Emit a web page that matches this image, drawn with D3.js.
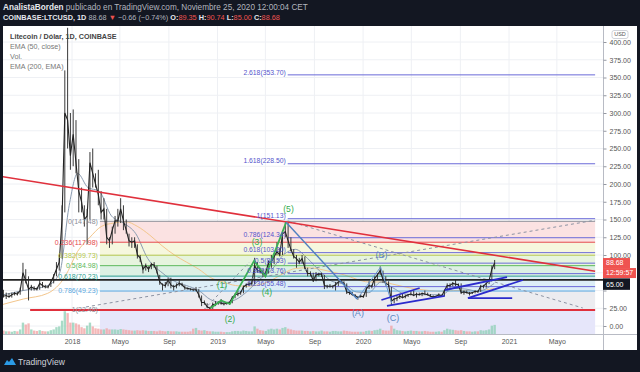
<!DOCTYPE html>
<html>
<head>
<meta charset="utf-8">
<script src="https://cdn.jsdelivr.net/npm/d3@7"></script>
<style>
  body { margin: 0; background: #131722; }
  svg { display: block; font-family: "Liberation Sans", Arial, sans-serif; }
</style>
</head>
<body>
<svg id="chart" width="640" height="372"></svg>
<script>
'use strict';

// weekly candles, first week starts on this Monday
const weekStart = '2017-06-26';
const closes = [
  45, 50, 42, 43, 41, 44, 46, 45, 50, 75, 64, 52, 55, 53, 52, 60, 57, 55, 55, 62, 70, 80, 90, 150, 300, 290, 240,
  270, 230, 190, 175, 150, 155, 230, 215, 200, 185, 160, 165, 125, 120, 135, 148, 148, 165, 148, 135, 120, 118, 120, 100,
  96, 80, 85, 80, 87, 86, 77, 62, 58, 57, 65, 58, 55, 57, 60, 58, 54, 53, 52, 51, 51, 44, 33, 33, 27, 25, 30, 31,
  33, 32, 31, 32, 33, 40, 44, 45, 47, 55, 58, 59, 60, 85, 78, 77, 73, 75, 90, 90, 98, 105, 100, 130, 133, 120, 108,
  98, 95, 90, 95, 82, 74, 74, 64, 72, 73, 73, 57, 56, 56, 56, 58, 62, 63, 60, 48, 47, 44, 43, 40, 42,
  41, 52, 57, 56, 67, 72, 78, 65, 60, 58, 35, 38, 39, 42, 40, 42, 44, 45, 43, 45, 44, 46, 45, 44, 42, 41, 42, 44,
  42, 50, 57, 57, 60, 59, 58, 47, 48, 47, 46, 47, 49, 48, 56, 56, 60, 64, 80, 88.68
];
const highs = [
  52, 54, 51, 47, 46, 47, 48, 48, 54, 89, 80, 70, 58, 56, 54, 66, 62, 58, 57, 66, 73, 90, 100, 170, 360, 420, 300,
  305, 290, 235, 195, 170, 165, 245, 250, 215, 220, 190, 180, 165, 125, 140, 155, 165, 180, 170, 150, 130, 125, 125, 115,
  100, 85, 88, 84, 89, 90, 85, 72, 60, 62, 68, 68, 58, 60, 64, 61, 57, 54, 53, 53, 55, 52, 43, 36, 32, 27, 33, 35,
  35, 38, 33, 33, 34, 42, 46, 50, 49, 57, 60, 62, 63, 96, 90, 82, 80, 77, 92, 100, 102, 118, 110, 135, 146, 145, 125,
  108, 100, 96, 100, 98, 82, 77, 75, 76, 75, 75, 72, 58, 59, 57, 62, 63, 66, 63, 60, 50, 48, 45, 42, 45,
  44, 56, 63, 58, 70, 74, 84, 78, 70, 63, 55, 40, 42, 44, 46, 44, 45, 49, 50, 47, 47, 47, 50, 47, 45, 43, 43, 46,
  44, 51, 60, 60, 62, 65, 60, 60, 50, 50, 48, 48, 50, 50, 58, 58, 61, 65, 85, 93
];
const lows = [
  38, 44, 40, 38, 40, 40, 43, 43, 44, 50, 60, 36, 50, 50, 50, 51, 54, 53, 53, 55, 60, 70, 78, 95, 160, 250, 220,
  225, 215, 160, 160, 140, 115, 150, 195, 195, 170, 150, 150, 115, 110, 115, 130, 140, 145, 135, 130, 112, 110, 110, 95,
  90, 74, 78, 76, 80, 82, 74, 58, 50, 54, 56, 53, 50, 53, 56, 56, 51, 51, 50, 49, 49, 40, 28, 30, 25, 23, 24, 28,
  30, 30, 29, 30, 30, 32, 39, 42, 44, 46, 54, 56, 57, 59, 75, 74, 69, 70, 74, 82, 87, 100, 98, 100, 125, 110, 105,
  95, 82, 87, 88, 80, 70, 70, 62, 63, 70, 69, 52, 53, 54, 53, 50, 56, 60, 58, 45, 44, 43, 41, 37, 40,
  40, 41, 52, 53, 56, 66, 72, 61, 57, 55, 29, 32, 35, 38, 39, 39, 41, 43, 42, 40, 43, 42, 44, 43, 41, 40, 40, 41,
  41, 42, 50, 54, 56, 56, 55, 45, 44, 46, 43, 45, 46, 47, 48, 53, 54, 59, 63, 80
];
const volumes = [
  8, 10, 9, 7, 7, 6, 8, 7, 12, 30, 25, 28, 12, 9, 8, 10, 8, 7, 7, 10, 12, 18, 20, 35, 60, 55, 30,
  30, 28, 25, 18, 15, 22, 30, 20, 15, 14, 12, 12, 15, 12, 12, 12, 11, 13, 12, 11, 10, 9, 9, 10, 9,
  10, 9, 8, 8, 8, 7, 9, 8, 7, 8, 7, 7, 7, 6, 6, 6, 6, 7, 14, 16, 10, 9, 10, 8, 7, 7, 6,
  6, 6, 5, 5, 5, 7, 8, 8, 7, 9, 8, 7, 7, 20, 14, 10, 9, 8, 12, 14, 12, 14, 12, 16, 18, 14, 12,
  10, 9, 9, 9, 8, 8, 7, 8, 7, 7, 9, 7, 7, 6, 8, 8, 7, 7, 9, 8, 7, 6, 6, 6, 6,
  6, 8, 9, 8, 10, 11, 14, 10, 9, 9, 22, 14, 10, 9, 8, 7, 8, 9, 8, 8, 7, 7, 8, 7, 6, 6, 6, 7,
  6, 10, 14, 12, 11, 10, 9, 10, 8, 7, 7, 6, 7, 7, 10, 9, 10, 12, 22, 24
];

// moving averages
const ema50Dates = ['2017-06-26', '2017-09-01', '2017-11-01', '2017-12-01', '2017-12-25', '2018-01-15', '2018-02-10',
  '2018-03-10', '2018-04-10', '2018-05-10', '2018-06-10', '2018-07-10', '2018-08-15', '2018-09-15', '2018-10-15',
  '2018-11-15', '2018-12-15', '2019-01-15', '2019-02-15', '2019-03-15', '2019-04-15', '2019-05-15', '2019-06-15',
  '2019-07-15', '2019-08-15', '2019-09-15', '2019-10-15', '2019-11-15', '2019-12-15', '2020-01-15', '2020-02-15',
  '2020-03-15', '2020-04-15', '2020-05-15', '2020-06-15', '2020-07-15', '2020-08-15', '2020-09-15', '2020-10-15',
  '2020-11-25'];
const ema50Values = [42, 50, 57, 75, 170, 215, 195, 190, 155, 145, 130, 95, 75, 63, 57, 50, 37, 33, 37, 48, 65, 78,
  100, 108, 95, 77, 63, 59, 48, 47, 62, 54, 45, 44, 44, 44, 53, 52, 49, 60];
const ema200Dates = ['2017-06-26', '2017-09-01', '2017-11-01', '2017-12-15', '2018-01-15', '2018-02-15', '2018-03-15',
  '2018-04-15', '2018-05-15', '2018-06-15', '2018-07-15', '2018-08-15', '2018-09-15', '2018-10-15', '2018-11-15',
  '2018-12-15', '2019-01-15', '2019-02-15', '2019-03-15', '2019-04-15', '2019-05-15', '2019-06-15', '2019-07-15',
  '2019-08-15', '2019-09-15', '2019-10-15', '2019-11-15', '2019-12-15', '2020-01-15', '2020-02-15', '2020-03-15',
  '2020-04-15', '2020-05-15', '2020-06-15', '2020-07-15', '2020-08-15', '2020-09-15', '2020-10-15', '2020-11-25'];
const ema200Values = [28, 38, 46, 70, 105, 125, 140, 145, 147, 140, 128, 113, 100, 90, 80, 68, 62, 57, 56, 58, 64, 74,
  81, 82, 80, 76, 72, 66, 62, 62, 59, 55, 52, 50, 49, 50, 50, 50, 53];

// axes (50 and 75 sit behind the price tags)
const yTicks = [0, 25, 50, 75, 100, 125, 150, 175, 200, 225, 250, 275, 300, 325, 350, 375, 400];
const yHiddenTicks = [50, 75];
const xTickDates = ['2018-01-01', '2018-05-01', '2018-09-01', '2019-01-01', '2019-05-01', '2019-09-01',
  '2020-01-01', '2020-05-01', '2020-09-01', '2021-01-01', '2021-05-01'];
const xTickLabels = ['2018', 'Mayo', 'Sep', '2019', 'Mayo', 'Sep', '2020', 'Mayo', 'Sep', '2021', 'Mayo'];

// fibonacci tools
const fibLeftSpan = ['2018-03-12', '2021-08-05'];
const fibLeftPrices = [147.48, 22.48];
const fibLeftLevels = [0, 0.236, 0.382, 0.5, 0.618, 0.786, 1];
const fibLeftColors = ['#8a8d96', '#e5484d', '#b2c64a', '#5cb85c', '#2a9d8f', '#5aa7e0', '#8a8d96'];
const fibLeftFills = ['#fbe2e2', '#f6f7de', '#e6f4de', '#dcf0e4', '#ddeef7', '#ececf0'];
const fibRightSpan = ['2019-06-26', '2021-08-05'];
const fibRightPrices = [25.93, 151.13];
const fibRightLevels = [0.236, 0.382, 0.5, 0.618, 0.786, 1, 1.618, 2.618];

// drawings
const redTrend = [['2017-07-04', 211], ['2021-08-05', 77]];
const redSupport = [['2017-09-18', 22.48], ['2021-08-05', 22.48]];
const blackLevel = 65;
const dashedLines = [
  [['2018-02-05', 26.8], ['2021-08-05', 149]],
  [['2019-06-26', 148], ['2021-07-05', 25.4]],
  [['2018-11-27', 22.5], ['2019-03-22', 90]]
];
const greenWave = [['2018-12-14', 25], ['2019-01-10', 36], ['2019-02-01', 31], ['2019-04-03', 92],
  ['2019-05-01', 70], ['2019-06-22', 146]];
const blueWave = [['2019-06-22', 146], ['2019-12-17', 38]];
const abcWave = [['2019-12-17', 38], ['2020-02-14', 83], ['2020-03-13', 32]];
const channelLines = [
  [['2020-02-16', 36.6], ['2020-05-22', 53.5]],
  [['2020-03-01', 28.2], ['2020-07-24', 42.3]],
  [['2020-07-24', 50.7], ['2020-12-27', 69.0]],
  [['2020-09-20', 39.4], ['2021-02-05', 64.8]],
  [['2020-09-20', 39.4], ['2021-01-09', 39.4]]
];
const waveLabels = ['(5)', '(3)', '(1)', '(4)', '(2)'];
const waveLabelPos = [['2019-06-28', 165], ['2019-04-10', 118.5], ['2019-01-12', 57.7], ['2019-05-05', 48.5],
  ['2019-02-01', 9.9]];
const abcLabels = ['(B)', '(A)', '(C)'];
const abcLabelPos = [['2020-02-16', 100], ['2019-12-19', 18.3], ['2020-03-16', 11.3]];

const parse = d3.utcParse('%Y-%m-%d');
const x = d3.scaleUtc().domain([parse('2018-01-01'), parse('2021-01-01')]).range([72, 509]);
const y = d3.scaleLinear().domain([0, 400]).range([326, 42]);
const yv = d3.scaleLinear().domain([0, 100]).range([0, 38]);

const pL = 3, pR = 603, pT = 26, pB = 334;

const svg = d3.select('#chart');
svg.append('rect').attr('width', 640).attr('height', 372).attr('fill', '#131722');
svg.append('rect').attr('x', pL).attr('y', pT).attr('width', 634).attr('height', 324).attr('fill', '#fff');

svg.append('clipPath').attr('id', 'plot')
  .append('rect').attr('x', pL).attr('y', pT).attr('width', pR - pL).attr('height', pB - pT);
const plot = svg.append('g').attr('clip-path', 'url(#plot)');

// grid
plot.selectAll('.vgrid').data(xTickDates).enter().append('line')
  .attr('x1', (d) => x(parse(d))).attr('x2', (d) => x(parse(d)))
  .attr('y1', pT).attr('y2', pB).attr('stroke', '#eef0f4');
plot.selectAll('.hgrid').data(yTicks).enter().append('line')
  .attr('x1', pL).attr('x2', pR).attr('y1', (d) => y(d)).attr('y2', (d) => y(d))
  .attr('stroke', '#eef0f4');

// left fib bands
const fl0 = x(parse(fibLeftSpan[0])), fl1 = x(parse(fibLeftSpan[1]));
const fibLeftY = fibLeftLevels.map((l) => fibLeftPrices[0] + (fibLeftPrices[1] - fibLeftPrices[0]) * l);
plot.selectAll('.band').data(fibLeftFills).enter().append('rect')
  .attr('x', fl0).attr('width', fl1 - fl0)
  .attr('y', (d, i) => y(fibLeftY[i]))
  .attr('height', (d, i) => y(fibLeftY[i + 1]) - y(fibLeftY[i]))
  .attr('fill', (d) => d);
plot.append('rect').attr('x', fl0).attr('width', fl1 - fl0)
  .attr('y', y(fibLeftPrices[1])).attr('height', pB - y(fibLeftPrices[1])).attr('fill', '#e6e6fa');

// volume
const weekDates = closes.map((c, i) => d3.utcDay.offset(parse(weekStart), 7 * i + 3));
plot.selectAll('.vol').data(volumes).enter().append('rect')
  .attr('x', (d, i) => x(weekDates[i]) - 1.2).attr('width', 2.4)
  .attr('y', (d) => pB - yv(d)).attr('height', (d) => yv(d))
  .attr('fill', (d, i) => (i > 0 && closes[i] < closes[i - 1]) ? '#f0a0a0' : '#8ccfb4')
  .attr('opacity', 0.75);

// moving averages
const maLine = d3.line().curve(d3.curveMonotoneX).x((d) => x(parse(d[0]))).y((d) => y(d[1]));
plot.append('path').datum(ema200Dates.map((d, i) => [d, ema200Values[i]]))
  .attr('d', maLine).attr('fill', 'none').attr('stroke', '#f3c68c').attr('stroke-width', 1);
plot.append('path').datum(ema50Dates.map((d, i) => [d, ema50Values[i]]))
  .attr('d', maLine).attr('fill', 'none').attr('stroke', '#8a9bb0').attr('stroke-width', 1);

// fib lines
fibLeftY.forEach((p, i) => {
  if (i === fibLeftY.length - 1) return;
  plot.append('line').attr('x1', fl0).attr('x2', fl1).attr('y1', y(p)).attr('y2', y(p))
    .attr('stroke', fibLeftColors[i]).attr('stroke-width', 1);
});
const fr0 = x(parse(fibRightSpan[0])), fr1 = x(parse(fibRightSpan[1]));
const fibRightY = fibRightLevels.map((l) => fibRightPrices[0] + (fibRightPrices[1] - fibRightPrices[0]) * l);
plot.selectAll('.fr').data(fibRightY).enter().append('line')
  .attr('x1', fr0).attr('x2', fr1).attr('y1', (d) => y(d)).attr('y2', (d) => y(d))
  .attr('stroke', '#6a6ad8').attr('stroke-width', 1);

// price
const wicks = plot.append('g');
wicks.selectAll('line').data(closes).enter().append('line')
  .attr('x1', (d, i) => x(weekDates[i])).attr('x2', (d, i) => x(weekDates[i]))
  .attr('y1', (d, i) => y(highs[i])).attr('y2', (d, i) => y(lows[i]))
  .attr('stroke', '#3a3a3a').attr('stroke-width', 1);
plot.append('path').datum(closes)
  .attr('d', d3.line().x((d, i) => x(weekDates[i])).y((d) => y(d)))
  .attr('fill', 'none').attr('stroke', '#222').attr('stroke-width', 1.1);

// drawings
const seg = d3.line().x((d) => x(parse(d[0]))).y((d) => y(d[1]));
dashedLines.forEach((l) => plot.append('path').attr('d', seg(l)).attr('fill', 'none')
  .attr('stroke', '#8c93a3').attr('stroke-width', 1).attr('stroke-dasharray', '3,3'));
plot.append('path').attr('d', seg(redTrend)).attr('stroke', '#e0303c').attr('stroke-width', 1.6).attr('fill', 'none');
plot.append('path').attr('d', seg(redSupport)).attr('stroke', '#e0303c').attr('stroke-width', 2).attr('fill', 'none');
plot.append('line').attr('x1', pL).attr('x2', pR).attr('y1', y(blackLevel)).attr('y2', y(blackLevel))
  .attr('stroke', '#222').attr('stroke-width', 1.6);
plot.append('path').attr('d', seg(greenWave)).attr('stroke', '#3cb054').attr('stroke-width', 1.8).attr('fill', 'none');
plot.append('path').attr('d', seg(blueWave)).attr('stroke', '#4f80c0').attr('stroke-width', 1.4).attr('fill', 'none');
plot.append('path').attr('d', seg(abcWave)).attr('stroke', '#6a98d0').attr('stroke-width', 1).attr('fill', 'none');
channelLines.forEach((l) => plot.append('path').attr('d', seg(l)).attr('fill', 'none')
  .attr('stroke', '#2b2bcc').attr('stroke-width', 1.8));

// labels
const fmt = (l, p) => `${l}(${p.toFixed(2)})`;
plot.selectAll('.fll').data(fibLeftY).enter().append('text')
  .attr('x', fl0 - 2).attr('y', (d) => y(d)).attr('dy', '0.35em').attr('text-anchor', 'end')
  .attr('font-size', 7).attr('fill', (d, i) => fibLeftColors[i])
  .text((d, i) => fmt(fibLeftLevels[i], d));
plot.selectAll('.frl').data(fibRightY).enter().append('text')
  .attr('x', fr0 - 2).attr('y', (d) => y(d)).attr('dy', '-0.05em').attr('text-anchor', 'end')
  .attr('font-size', 6.8).attr('fill', '#5555cc')
  .text((d, i) => fmt(fibRightLevels[i], d));
plot.selectAll('.wl').data(waveLabels).enter().append('text')
  .attr('x', (d, i) => x(parse(waveLabelPos[i][0]))).attr('y', (d, i) => y(waveLabelPos[i][1]))
  .attr('dy', '0.35em').attr('text-anchor', 'middle').attr('font-size', 8.6).attr('fill', '#35ad4e').text((d) => d);
plot.selectAll('.al').data(abcLabels).enter().append('text')
  .attr('x', (d, i) => x(parse(abcLabelPos[i][0]))).attr('y', (d, i) => y(abcLabelPos[i][1]))
  .attr('dy', '0.35em').attr('text-anchor', 'middle').attr('font-size', 9).attr('fill', '#5a86c2').text((d) => d);

// axes
svg.append('line').attr('x1', pR + 0.5).attr('x2', pR + 0.5).attr('y1', pT).attr('y2', 350).attr('stroke', '#b8bbc4');
svg.append('line').attr('x1', pL).attr('x2', 637).attr('y1', pB + 0.5).attr('y2', pB + 0.5).attr('stroke', '#b8bbc4');

const yAxis = svg.append('g').attr('transform', `translate(${pR + 0.5},0)`)
  .call(d3.axisRight(y).tickValues(yTicks).tickSize(3).tickPadding(3)
    .tickFormat((d) => yHiddenTicks.includes(d) ? '' : d3.format('.2f')(d)));
yAxis.select('.domain').remove();
yAxis.selectAll('line').attr('stroke', '#9598a1');
yAxis.selectAll('text').attr('font-size', 7).attr('fill', '#555').attr('font-family', 'Liberation Sans, Arial');

const xAxis = svg.append('g').attr('transform', `translate(0,${pB})`)
  .call(d3.axisBottom(x).tickValues(xTickDates.map(parse)).tickSize(0).tickPadding(5)
    .tickFormat((d, i) => xTickLabels[i]));
xAxis.select('.domain').remove();
xAxis.selectAll('text').attr('font-size', 7).attr('fill', '#555').attr('font-family', 'Liberation Sans, Arial');

// price tags
const tag = (yy, w, h, fill, label) => {
  svg.append('rect').attr('x', pR).attr('y', yy).attr('width', w).attr('height', h).attr('fill', fill);
  svg.append('text').attr('x', pR + 3).attr('y', yy + h / 2).attr('dy', '0.35em')
    .attr('font-size', 7).attr('fill', '#fff').text(label);
};
tag(y(closes[closes.length - 1]) - 5, 27, 10, '#ef5350', '88.68');
tag(y(closes[closes.length - 1]) + 5, 33, 10, '#ef5350', '12:59:57');
tag(y(blackLevel) - 1.5, 27, 11.5, '#131722', '65.00');
svg.append('rect').attr('x', 612).attr('y', 30.5).attr('width', 16).attr('height', 8).attr('rx', 2)
  .attr('fill', '#fff').attr('stroke', '#d0d3da');
svg.append('text').attr('x', 620).attr('y', 34.5).attr('dy', '0.35em').attr('text-anchor', 'middle')
  .attr('font-size', 5.5).attr('fill', '#555').text('USD');

// legend
const legend = ['Litecoin / Dólar, 1D, COINBASE', 'EMA (50, close)', 'Vol.', 'EMA (200, EMA)'];
svg.selectAll('.lg').data(legend).enter().append('text')
  .attr('x', 10).attr('y', (d, i) => 36 + i * 10.3).attr('dy', '0.35em').attr('font-size', 7.2)
  .attr('font-weight', (d, i) => i === 0 ? 'bold' : 'normal')
  .attr('fill', (d, i) => i === 0 ? '#444' : '#777').text((d) => d);

// header
const h1 = svg.append('text').attr('x', 3).attr('y', 7).attr('dy', '0.35em').attr('font-size', 8.2).attr('fill', '#b2b5be');
h1.append('tspan').attr('font-weight', 'bold').attr('fill', '#e6e8ee').text('AnalistaBorden');
h1.append('tspan').text(' publicado en TradingView.com, Noviembre 25, 2020 12:00:04 CET');
const h2 = svg.append('text').attr('x', 3).attr('y', 17).attr('dy', '0.35em').attr('font-size', 7.3).attr('fill', '#b2b5be');
const parts = [['COINBASE:LTCUSD, 1D ', '#e6e8ee', 'bold'], ['88.68 ', '#b2b5be'], ['▼ ', '#ef5350'],
  ['−0.66 (−0.74%) ', '#b2b5be'], ['O:', '#e6e8ee', 'bold'], ['89.35 ', '#ef5350'], ['H:', '#e6e8ee', 'bold'],
  ['90.74 ', '#ef5350'], ['L:', '#e6e8ee', 'bold'], ['85.00 ', '#ef5350'], ['C:', '#e6e8ee', 'bold'], ['88.68', '#ef5350']];
parts.forEach((p) => h2.append('tspan').attr('fill', p[1]).attr('font-weight', p[2] || 'normal').text(p[0]));

// footer logo
const logo = svg.append('g').attr('transform', 'translate(4,357)');
logo.append('path').attr('d', 'M0,8 L3,3 L5,5 L8,1 L12,8 Z').attr('fill', '#2b9be6');
svg.append('text').attr('x', 18).attr('y', 362).attr('dy', '0.35em').attr('font-size', 8.5)
  .attr('fill', '#d1d4dc').text('TradingView');
</script>
</body>
</html>
